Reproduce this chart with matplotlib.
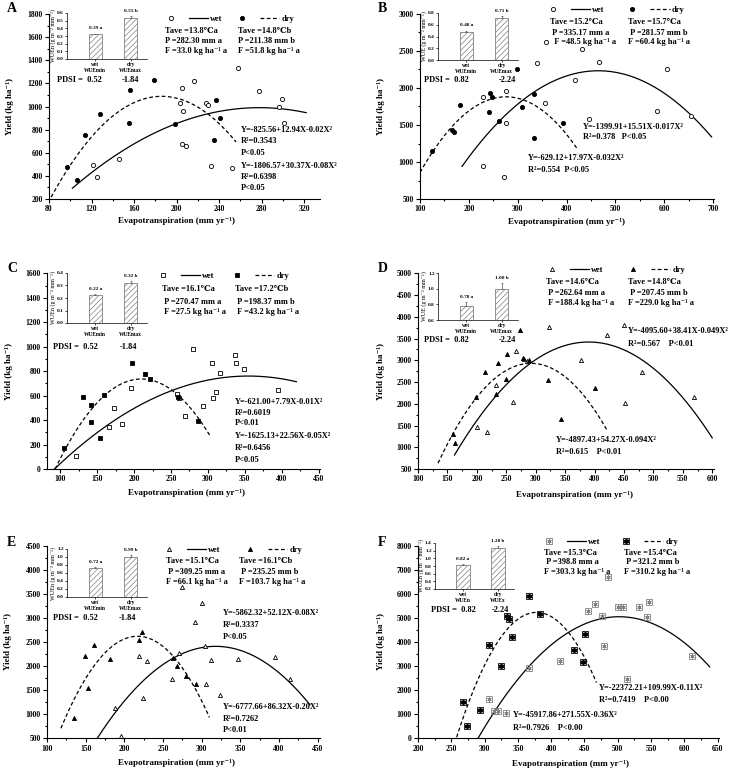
import numpy as np
import matplotlib
matplotlib.use('Agg')
import matplotlib.pyplot as plt
from matplotlib.legend_handler import HandlerTuple
from matplotlib.ticker import MultipleLocator

plt.rcParams['font.family'] = ['Liberation Serif', 'DejaVu Serif', 'DejaVu Sans']
plt.rcParams['font.weight'] = 'bold'
plt.rcParams['axes.linewidth'] = 0.8
plt.rcParams['hatch.linewidth'] = 0.5

# ---- scatter data (evapotranspiration, yield) ----
A_wet_x = [121, 125.5, 146, 205.5, 203, 206, 205.5, 208.6, 216, 227.5, 230, 232, 252.5, 258, 278, 296.5, 299.6, 301]
A_wet_y = [490, 393, 549, 1157, 1027, 964, 676, 661, 1220, 1033, 1010, 488, 471, 1330, 1134, 993, 1068, 854]
A_dry_x = [97, 106, 114, 127.7, 156, 155.6, 179, 198.6, 237, 235, 241]
A_dry_y = [477, 364, 756, 935, 1143, 860, 1232, 851, 1056, 710, 903]

B_wet_x = [229.9, 228.6, 276.9, 276.2, 272.8, 355.8, 338.8, 431.3, 357, 417, 447, 466, 585.7, 605, 654]
B_wet_y = [1881, 951, 1962, 1533, 798, 1800, 2337, 2531, 2620, 2106, 1583, 2350, 1691, 2255, 1619]
B_dry_x = [124.5, 166, 169.4, 182.3, 241.5, 243.5, 248.3, 262.6, 298, 308.2, 332.7, 334, 393]
B_dry_y = [1145, 1430, 1412, 1773, 1669, 1926, 1876, 1551, 2255, 1745, 1917, 1326, 1529]

C_wet_x = [121, 166, 172.3, 183, 195.7, 258.6, 260.8, 268.5, 280, 294, 306, 306.9, 311.4, 315.9, 336.7, 338, 348.4, 394.5]
C_wet_y = [106, 343, 499, 368, 660, 613, 578, 431, 978, 518, 869, 583, 627, 785, 935, 869, 820, 646]
C_dry_x = [105.4, 130.3, 141.6, 142, 154, 158.7, 197.6, 214.3, 222, 259, 286]
C_dry_y = [169, 591, 384, 521, 251, 605, 864, 777, 733, 591, 395]

D_wet_x = [200, 217.5, 233.3, 261.6, 266.7, 280.8, 284.7, 322.6, 376.3, 421.5, 450, 452, 480, 569]
D_wet_y = [1466, 1343, 2424, 2041, 3214, 3030, 2992, 3774, 3007, 3582, 3812, 2010, 2731, 2164]
D_dry_x = [158.8, 162.7, 198.9, 213.6, 232.8, 236, 249.7, 251.4, 273.4, 279, 288, 320.9, 343.5, 401]
D_dry_y = [1297, 1098, 2156, 2723, 2225, 2938, 2562, 3153, 3697, 3050, 3010, 2539, 1658, 2355]

E_wet_x = [188.1, 196.3, 219, 224, 229.2, 261.3, 270.3, 274.6, 291.7, 301, 304.5, 305.8, 312.7, 324.2, 346.5, 395, 414.5]
E_wet_y = [1130, 548, 2216, 1330, 2106, 1725, 2265, 3635, 2908, 3317, 2417, 1621, 2119, 1400, 2140, 2196, 1725]
E_dry_x = [134.7, 149.2, 153, 161, 181.3, 219, 223.2, 263, 267.7, 280.1, 293]
E_dry_y = [929, 2209, 1552, 2438, 2140, 2548, 2701, 2161, 2009, 1794, 1635]

F_wet_x = [307, 314.5, 319.5, 332.5, 366, 413.5, 455.5, 465.5, 477, 479.5, 486, 500, 508.5, 513.5, 532, 543.5, 547, 611]
F_wet_y = [1619, 1135, 1135, 1038, 2907, 3211, 5287, 5592, 5080, 3848, 6685, 5439, 5467, 2478, 5467, 5024, 5647, 3419]
F_dry_x = [267.5, 273.5, 293.5, 307, 324, 333, 336, 340.5, 366.5, 382.5, 435, 447.5, 451]
F_dry_y = [1495, 526, 1190, 3862, 3003, 5100, 4950, 4194, 5910, 5149, 3668, 3156, 4332]

# fitted quadratics as drawn: (vertex x, vertex y, curvature, x start, x end)
A_wet_fit = (278, 990, 0.0225, 102, 322)
A_dry_fit = (186, 1088, 0.0806, 82, 256)
B_wet_fit = (465, 2233, 0.0166, 186, 697)
B_dry_fit = (276, 1881, 0.033, 100, 421)
C_wet_fit = (355, 760, 0.011, 92, 420)
C_dry_fit = (210, 736, 0.0538, 93, 303)
D_wet_fit = (390, 3420, 0.05, 162, 600)
D_dry_fit = (292, 2930, 0.092, 134, 422)
E_wet_fit = (318, 2410, 0.0816, 165, 440)
E_dry_fit = (217, 2620, 0.195, 118, 310)
F_wet_fit = (502, 5050, 0.1125, 290, 638)
F_dry_fit = (378, 5230, 0.36, 258, 468)

# inset WUE bars (wet, dry)
wue_vals = [[0.32, 0.54], [0.48, 0.72], [0.22, 0.32], [0.78, 1.00], [0.72, 1.00], [0.82, 1.28]]
wue_errs = [[0.01, 0.02], [0.02, 0.03], [0.01, 0.015], [0.05, 0.07], [0.02, 0.04], [0.03, 0.04]]
wue_text = [['0.39 a', '0.55 b'], ['0.48 a', '0.71 b'], ['0.22 a', '0.32 b'],
            ['0.78 a', '1.00 b'], ['0.72 a', '0.99 b'], ['0.82 a', '1.28 b']]
wue_ylim = [(0, 0.6), (0, 0.8), (0, 0.4), (0.6, 1.2), (0, 1.2), (0.2, 1.4)]
wue_step = [0.1, 0.2, 0.1, 0.2, 0.2, 0.2]
wue_ylabel = ['WUEn (g m⁻² mm⁻¹)', 'WUE (g m⁻² mm⁻¹)', 'WUEn (g m⁻² mm⁻¹)',
              'WUE (g m⁻² mm⁻¹)', 'WUEn (g m⁻² mm⁻¹)', 'WUEn (g m⁻² mm⁻¹)']
wue_xlabels = [['wet\nWUEmin', 'dry\nWUEmax']] * 5 + [['wet\nWUEn', 'dry\nWUEx']]
pdsi = [['0.52', '-1.84'], ['0.82', '-2.24'], ['0.52', '-1.84'],
        ['0.82', '-2.24'], ['0.52', '-1.84'], ['0.82', '-2.24']]

W, H = 742, 770
fig = plt.figure(figsize=(W / 100, H / 100), dpi=100)

NOTE = 6.0  # annotation font size


def fx(px):
    return px / W


def fy(py):
    return 1 - py / H


def axes_px(l, t, r, b):
    return fig.add_axes([fx(l), fy(b), (r - l) / W, (b - t) / H])


def txt(px, py, s, size=NOTE, **kw):
    kw.setdefault('ha', 'left')
    kw.setdefault('va', 'center')
    fig.text(fx(px), fy(py), s, fontsize=size, **kw)


def marker_handles(ax, x, y, kind, filled):
    if kind == 'F':
        col = 'black' if filled else '#808080'
        sq, = ax.plot(x, y, ls='none', marker='s', ms=3.8, mfc='none', mec=col, mew=0.6)
        st, = ax.plot(x, y, ls='none', marker=(6, 2, 0), ms=3.6 if filled else 3.0,
                      mec=col, mew=1.1 if filled else 0.6)
        return (sq, st)
    h, = ax.plot(x, y, ls='none', marker=kind, ms=3.0 if kind != 's' else 2.7,
                 mfc='black' if filled else 'white', mec='black', mew=0.6)
    return h


def fit_line(ax, fit, ls):
    h, k, a, x0, x1 = fit
    xs = np.linspace(x0, x1, 200)
    ln, = ax.plot(xs, k - a * (xs - h) ** 2, color='black', lw=0.9)
    if ls == '--':
        ln.set_dashes((3, 2))
    return ln


def main_panel(box, xlim, ylim, xstep, ystep, kind, wx, wy, dx, dy, wfit, dfit,
               leg_xy, colsp, ylab_x, xlab_xy):
    ax = axes_px(*box)
    wl = fit_line(ax, wfit, '-')
    dl = fit_line(ax, dfit, '--')
    wm = marker_handles(ax, wx, wy, kind, False)
    dm = marker_handles(ax, dx, dy, kind, True)
    ax.set_xlim(*xlim)
    ax.set_ylim(*ylim)
    ax.xaxis.set_major_locator(MultipleLocator(xstep))
    ax.xaxis.set_minor_locator(MultipleLocator(xstep / 2))
    ax.yaxis.set_major_locator(MultipleLocator(ystep))
    ax.yaxis.set_minor_locator(MultipleLocator(ystep / 2))
    for s in ('top', 'right'):
        ax.spines[s].set_visible(False)
    ax.tick_params(which='both', direction='out', labelsize=5.5, pad=1.5, width=0.8)
    ax.tick_params(which='major', length=3)
    ax.tick_params(which='minor', length=1.7)
    hw = (wm, wl)
    hd = (dm, dl)
    hm = {hw: HandlerTuple(ndivide=None, pad=1.0), hd: HandlerTuple(ndivide=None, pad=1.0)}
    ax.legend([hw, hd], ['wet', 'dry'], handler_map=hm, loc='center left',
              bbox_to_anchor=(fx(leg_xy[0]), fy(leg_xy[1])), bbox_transform=fig.transFigure,
              ncol=2, frameon=False, fontsize=NOTE, handlelength=5.6, handletextpad=0.3,
              columnspacing=colsp, borderpad=0, borderaxespad=0, numpoints=1)
    l, t, r, b = box
    txt(ylab_x, (t + b) / 2, 'Yield (kg ha⁻¹)', size=6.5, rotation=90, ha='center')
    txt(xlab_xy[0], xlab_xy[1], 'Evapotranspiration (mm yr⁻¹)', size=6.5, ha='center')
    return ax


def inset_panel(i, box, pdsi_xy):
    ax = axes_px(*box)
    pos = [0.8, 1.8]
    vals = wue_vals[i]
    errs = wue_errs[i]
    ax.bar(pos, vals, width=0.38, color='white', edgecolor='#808080', hatch='//////', lw=0.6)
    ax.errorbar(pos, vals, yerr=[[0, 0], errs], fmt='none', ecolor='#555555',
                elinewidth=0.5, capsize=1.0, capthick=0.5)
    lo, hi = wue_ylim[i]
    for p, v, e, s in zip(pos, vals, errs, wue_text[i]):
        ax.text(p, v + e + 0.07 * (hi - lo), s, fontsize=3.8, ha='center', va='bottom')
    ax.set_xlim(0, 2.26)
    ax.set_ylim(lo, hi)
    ax.set_yticks(np.arange(lo, hi + 1e-9, wue_step[i]))
    ax.set_xticks(pos)
    ax.set_xticklabels(wue_xlabels[i], fontsize=4.0, linespacing=1.4)
    ax.set_ylabel(wue_ylabel[i], fontsize=4.4, labelpad=1)
    for s in ('top', 'right'):
        ax.spines[s].set_visible(False)
    for s in ('left', 'bottom'):
        ax.spines[s].set_linewidth(0.5)
    ax.tick_params(axis='y', labelsize=3.8, length=1.5, width=0.5, pad=0.8)
    ax.tick_params(axis='x', length=1.2, width=0.5, pad=0.8)
    txt(pdsi_xy[0], pdsi_xy[1], 'PDSI =  ' + pdsi[i][0])
    txt(pdsi_xy[2], pdsi_xy[1], pdsi[i][1])


def stats(rows, lx, rx, ys):
    for (a, b), y in zip(rows, ys):
        txt(lx, y, a)
        txt(rx, y, b)


def lines(items, x, ys):
    for s, y in zip(items, ys):
        txt(x, y, s)


# ---------------- A ----------------
main_panel((49, 14, 320, 199), (80, 335), (200, 1800), 40, 200, 'o',
           A_wet_x, A_wet_y, A_dry_x, A_dry_y, A_wet_fit, A_dry_fit,
           (161, 19.3), 1.2, 10, (177, 221))
inset_panel(0, (67, 13, 147, 59), (57, 80, 122))
txt(7, 8.5, 'A', size=10)
stats([('Tave =13.8℃a', 'Tave =14.8℃b'), ('P =282.30 mm a', 'P =211.38 mm b'),
       ('F =33.0 kg ha⁻¹ a', 'F =51.8 kg ha⁻¹ a')], 165, 238, [31, 41.3, 51])
lines(['Y=-825.56+12.94X-0.02X²', 'R²=0.3543', 'P<0.05',
       'Y=-1806.57+30.37X-0.08X²', 'R²=0.6398', 'P<0.05'], 241,
      [130, 141.3, 153, 165.7, 176.7, 187.7])

# ---------------- B ----------------
main_panel((420, 14, 714, 199), (100, 702), (500, 3000), 100, 500, 'o',
           B_wet_x, B_wet_y, B_dry_x, B_dry_y, B_wet_fit, B_dry_fit,
           (543, 10), 2.2, 381, (567, 222))
inset_panel(1, (438, 13, 518, 60), (424, 80, 499))
txt(378, 9, 'B', size=10)
stats([('Tave =15.2℃a', 'Tave =15.7℃a'), (' P =335.17 mm a', ' P =281.57 mm b'),
       ('  F =48.5 kg ha⁻¹ a', 'F =60.4 kg ha⁻¹ a')], 550, 628, [22.3, 32.7, 42])
lines(['Y=-1399.91+15.51X-0.017X²', 'R²=0.378   P<0.05'], 583, [126.7, 137.3])
lines(['Y=-629.12+17.97X-0.032X²', 'R²=0.554  P<0.05'], 528, [158.3, 170])

# ---------------- C ----------------
main_panel((47, 273.3, 320, 469), (82, 452), (0, 1600), 50, 200, 's',
           C_wet_x, C_wet_y, C_dry_x, C_dry_y, C_wet_fit, C_dry_fit,
           (153, 276), 1.5, 9, (186, 493))
inset_panel(2, (67, 273, 147, 323), (53, 346.7, 120))
txt(7, 269, 'C', size=10)
stats([('Tave =16.1℃a', 'Tave =17.2℃b'), (' P =270.47 mm a', ' P =198.37 mm b'),
       (' F =27.5 kg ha⁻¹ a', ' F =43.2 kg ha⁻¹ a')], 162, 235, [289, 301.7, 311.7])
lines(['Y=-621.00+7.79X-0.01X²', 'R²=0.6019', 'P<0.01',
       'Y=-1625.13+22.56X-0.05X²', 'R²=0.6456', 'P<0.05'], 235,
      [401.7, 413, 423.3, 435.7, 448, 460])

# ---------------- D ----------------
main_panel((418, 273.3, 714, 469), (100, 603), (500, 5000), 50, 500, '^',
           D_wet_x, D_wet_y, D_dry_x, D_dry_y, D_wet_fit, D_dry_fit,
           (542, 270), 2.4, 381, (575, 495))
inset_panel(3, (438, 273, 518, 320), (424, 340, 499))
txt(378, 269, 'D', size=10)
stats([('Tave =14.6℃a', 'Tave =14.8℃a'), (' P =262.64 mm a', ' P =207.45 mm b'),
       (' F =188.4 kg ha⁻¹ a', 'F =229.0 kg ha⁻¹ a')], 546, 628, [281.7, 293.3, 303.3])
lines(['Y=-4095.60+38.41X-0.049X²', 'R²=0.567    P<0.01'], 628, [331, 344])
lines(['Y=-4897.43+54.27X-0.094X²', 'R²=0.615    P<0.01'], 556, [440, 451.7])

# ---------------- E ----------------
main_panel((47, 545.7, 320, 738.3), (100, 453), (500, 4500), 50, 500, '^',
           E_wet_x, E_wet_y, E_dry_x, E_dry_y, E_wet_fit, E_dry_fit,
           (159, 550), 2.4, 8, (177, 763))
inset_panel(4, (67, 549, 147, 597), (53, 618.3, 119))
txt(7, 542, 'E', size=10)
stats([('Tave =15.1℃a', 'Tave =16.1℃b'), (' P =309.25 mm a', ' P =235.25 mm b'),
       ('F =66.1 kg ha⁻¹ a', 'F =103.7 kg ha⁻¹ a')], 166, 239, [561, 571.7, 581.7])
lines(['Y=-5862.32+52.12X-0.08X²', 'R²=0.3337', 'P<0.05'], 223, [613.3, 625, 636.7])
lines(['Y=-6777.66+86.32X-0.20X²', 'R²=0.7262', 'P<0.01'], 223, [706.7, 719, 730])

# ---------------- F ----------------
main_panel((418, 545.7, 719, 738.3), (200, 652), (0, 8000), 50, 1000, 'F',
           F_wet_x, F_wet_y, F_dry_x, F_dry_y, F_wet_fit, F_dry_fit,
           (539, 542), 1.9, 381, (571, 764))
inset_panel(5, (435, 543, 514, 589), (431, 610, 492))
txt(378, 542, 'F', size=10)
stats([('Tave =15.3℃a', 'Tave =15.4℃a'), (' P =398.8 mm a', ' P =321.2 mm b'),
       ('F =303.3 kg ha⁻¹ a', 'F =310.2 kg ha⁻¹ a')], 544, 624, [552.7, 562.3, 571.7])
lines(['Y=-22372.21+109.99X-0.11X²', 'R²=0.7419    P<0.00'], 599, [688.3, 700])
lines(['Y=-45917.86+271.55X-0.36X²', 'R²=0.7926    P<0.00'], 513, [715, 727.7])

fig.savefig('out.png', dpi=100)
